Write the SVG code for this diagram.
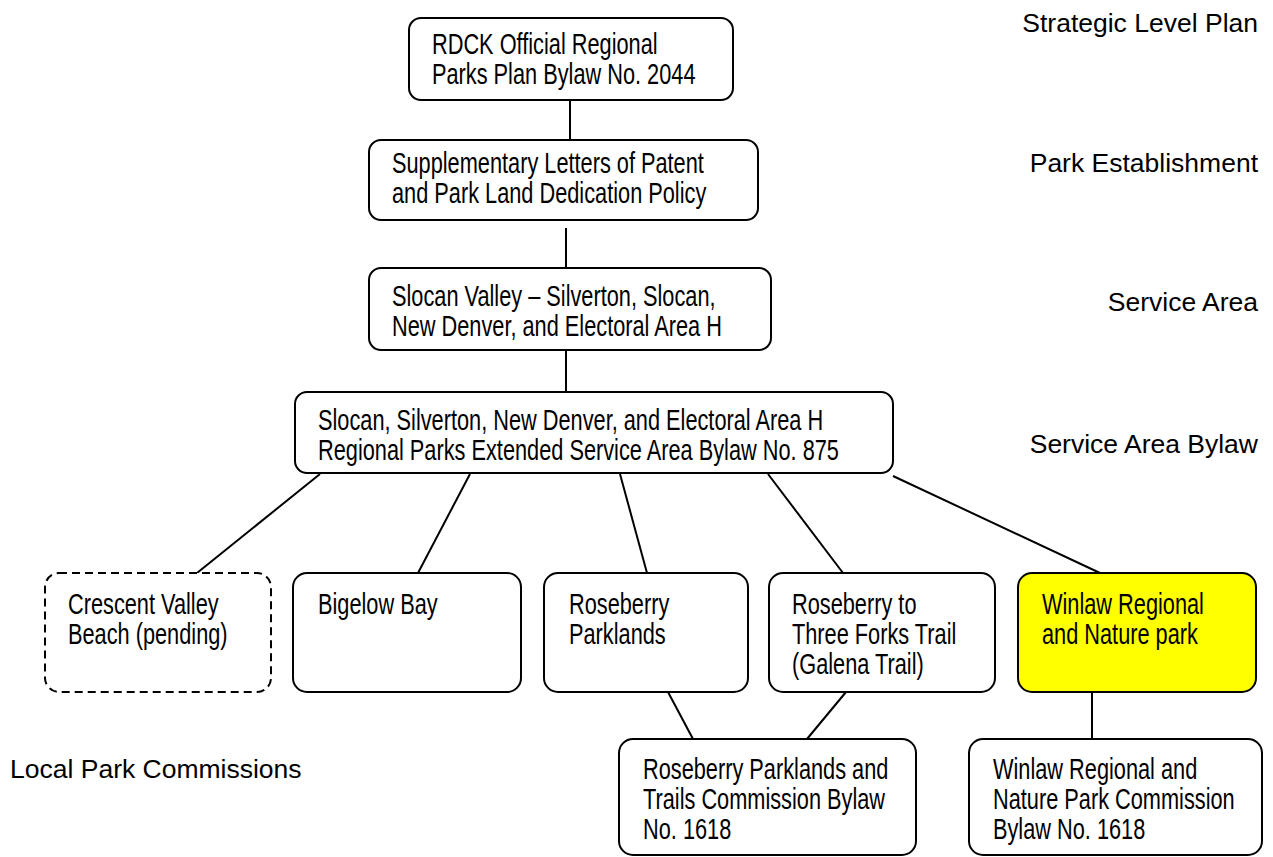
<svg xmlns="http://www.w3.org/2000/svg" width="1273" height="857" viewBox="0 0 1273 857">
<style>
.box{fill:#fff;stroke:#000;stroke-width:2}
.dash{fill:#fff;stroke:#000;stroke-width:2;stroke-dasharray:8 5}
.hl{fill:#ffff00;stroke:#000;stroke-width:2}
.t{font-family:"Liberation Sans",Arial,sans-serif;font-size:29px;fill:#000}
.lab{font-family:"Liberation Sans",Arial,sans-serif;font-size:26.5px;fill:#000}
.conn line{stroke:#000;stroke-width:2}
</style>
<rect width="1273" height="857" fill="#fff"/>
<g class="conn" id="connectors">
<line x1="570" y1="100" x2="570" y2="140"/>
<line x1="566" y1="228" x2="566" y2="268"/>
<line x1="566" y1="350" x2="566" y2="392"/>
<line x1="320" y1="474" x2="197" y2="573"/>
<line x1="470" y1="474" x2="418" y2="573"/>
<line x1="620" y1="474" x2="647" y2="573"/>
<line x1="768" y1="474" x2="843" y2="573"/>
<line x1="893" y1="476" x2="1100" y2="573"/>
<line x1="668" y1="692" x2="693" y2="739"/>
<line x1="846" y1="692" x2="807" y2="739"/>
<line x1="1092" y1="692" x2="1092" y2="739"/>
</g>
<g id="n-rdck"><rect class="box" x="409" y="18" width="324" height="82" rx="12"/>
<g transform="matrix(0.75 0 0 1 432 0)"><text class="t" x="0" y="54">RDCK Official Regional</text><text class="t" x="0" y="84">Parks Plan Bylaw No. 2044</text></g></g>
<g id="n-supp"><rect class="box" x="369" y="140" width="389" height="80" rx="12"/>
<g transform="matrix(0.75 0 0 1 392 0)"><text class="t" x="0" y="173">Supplementary Letters of Patent</text><text class="t" x="0" y="203">and Park Land Dedication Policy</text></g></g>
<g id="n-slocan"><rect class="box" x="369" y="268" width="402" height="82" rx="12"/>
<g transform="matrix(0.75 0 0 1 392 0)"><text class="t" x="0" y="306">Slocan Valley – Silverton, Slocan,</text><text class="t" x="0" y="336">New Denver, and Electoral Area H</text></g></g>
<g id="n-bylaw875"><rect class="box" x="295" y="392" width="598" height="81" rx="12"/>
<g transform="matrix(0.75 0 0 1 318 0)"><text class="t" x="0" y="430">Slocan, Silverton, New Denver, and Electoral Area H</text><text class="t" x="0" y="460">Regional Parks Extended Service Area Bylaw No. 875</text></g></g>
<g id="n-crescent"><rect class="dash" x="45" y="573" width="226" height="119" rx="14"/>
<g transform="matrix(0.75 0 0 1 68 0)"><text class="t" x="0" y="614">Crescent Valley</text><text class="t" x="0" y="644">Beach (pending)</text></g></g>
<g id="n-bigelow"><rect class="box" x="293" y="573" width="228" height="119" rx="14"/>
<g transform="matrix(0.75 0 0 1 318 0)"><text class="t" x="0" y="614">Bigelow Bay</text></g></g>
<g id="n-roseberry"><rect class="box" x="544" y="573" width="204" height="119" rx="14"/>
<g transform="matrix(0.75 0 0 1 569 0)"><text class="t" x="0" y="614">Roseberry</text><text class="t" x="0" y="644">Parklands</text></g></g>
<g id="n-galena"><rect class="box" x="769" y="573" width="226" height="119" rx="14"/>
<g transform="matrix(0.75 0 0 1 792 0)"><text class="t" x="0" y="614">Roseberry to</text><text class="t" x="0" y="644">Three Forks Trail</text><text class="t" x="0" y="674">(Galena Trail)</text></g></g>
<g id="n-winlaw"><rect class="hl" x="1018" y="573" width="238" height="119" rx="14"/>
<g transform="matrix(0.75 0 0 1 1042 0)"><text class="t" x="0" y="614">Winlaw Regional</text><text class="t" x="0" y="644">and Nature park</text></g></g>
<g id="n-rosecomm"><rect class="box" x="619" y="739" width="297" height="116" rx="14"/>
<g transform="matrix(0.75 0 0 1 643 0)"><text class="t" x="0" y="779">Roseberry Parklands and</text><text class="t" x="0" y="809">Trails Commission Bylaw</text><text class="t" x="0" y="839">No. 1618</text></g></g>
<g id="n-winlawcomm"><rect class="box" x="969" y="739" width="293" height="116" rx="14"/>
<g transform="matrix(0.75 0 0 1 993 0)"><text class="t" x="0" y="779">Winlaw Regional and</text><text class="t" x="0" y="809">Nature Park Commission</text><text class="t" x="0" y="839">Bylaw No. 1618</text></g></g>
<g id="labels">
<text class="lab" x="1258" y="32" text-anchor="end">Strategic Level Plan</text>
<text class="lab" x="1258" y="172" text-anchor="end">Park Establishment</text>
<text class="lab" x="1258" y="311" text-anchor="end">Service Area</text>
<text class="lab" x="1258" y="453" text-anchor="end">Service Area Bylaw</text>
<text class="lab" x="10" y="778">Local Park Commissions</text>
</g>
</svg>
